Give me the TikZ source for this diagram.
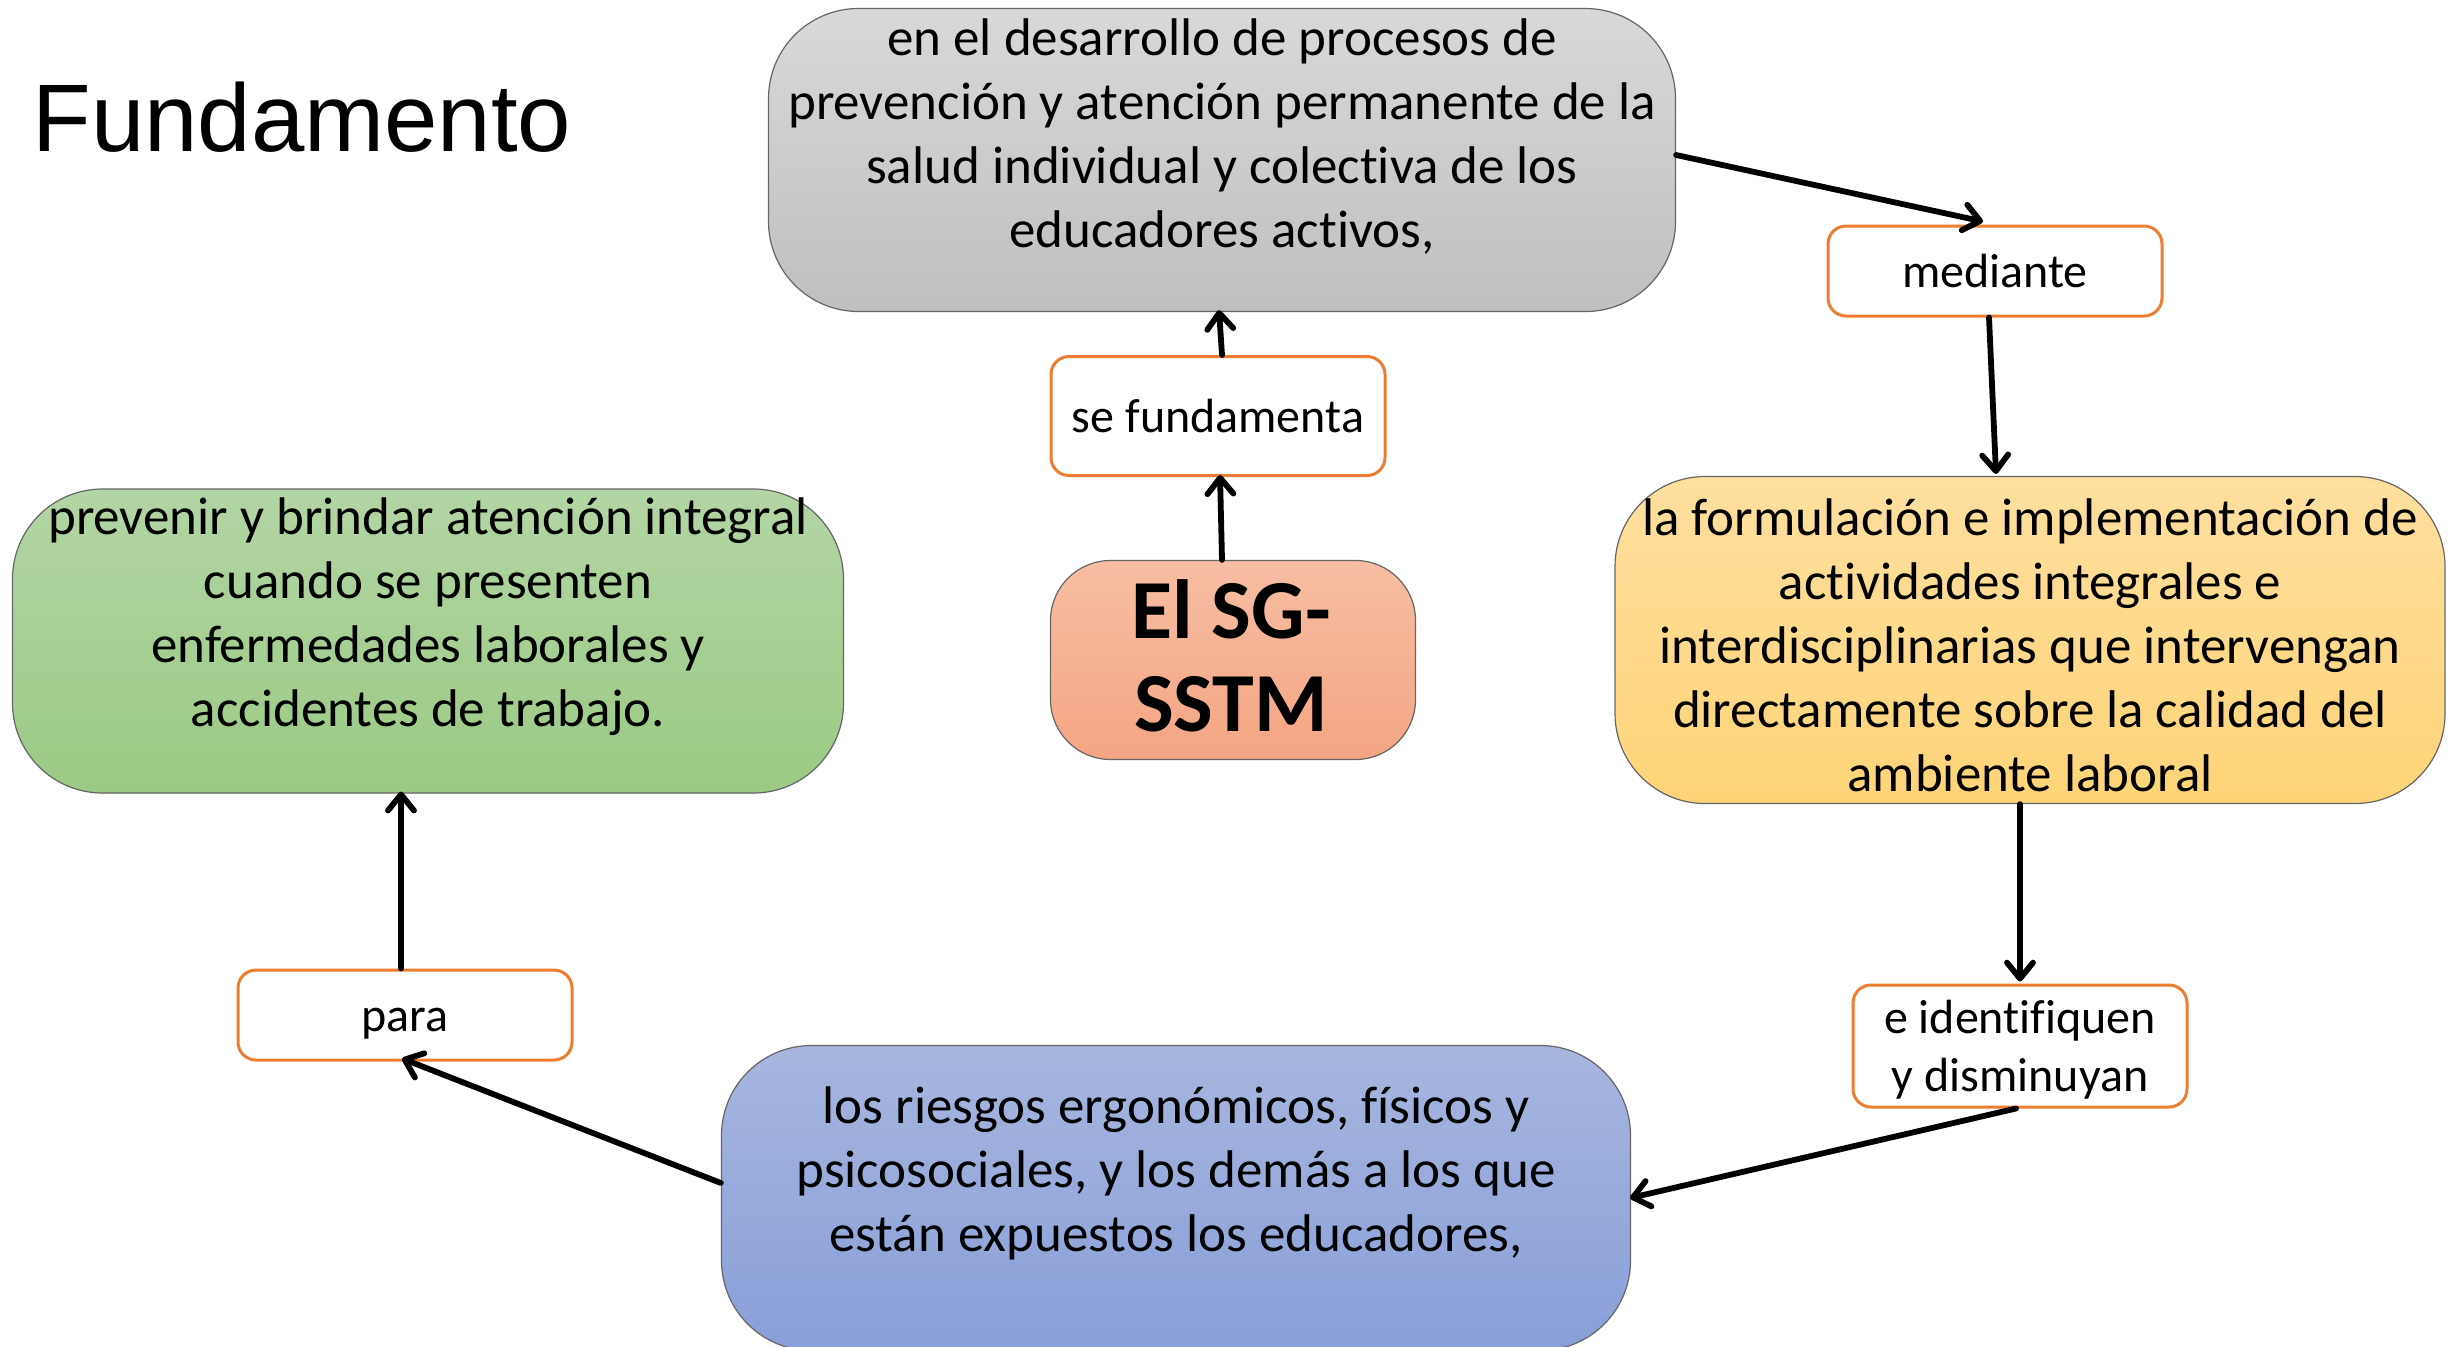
\documentclass[tikz,border=0pt]{standalone}
\usepackage{fontspec}
\setmainfont{Carlito}[Ligatures={NoCommon}]
\newfontfamily\arialf{Liberation Sans}
\usetikzlibrary{arrows.meta,calc}
\definecolor{lblorange}{HTML}{ED7D31}
\tikzset{
  bigbox/.style={draw=black!60, line width=0.6pt, rounded corners=45pt, inner sep=0pt},
  lblbox/.style={draw=lblorange, fill=white, line width=1.5pt, rounded corners=9pt,
     minimum width=167pt, inner sep=0pt, align=center,
     font=\fontsize{24}{29}\selectfont},
  bodytxt/.style={align=center, inner sep=0pt, font=\fontsize{26.5}{32}\selectfont},
  conn/.style={draw=black, line width=2.9pt, line cap=round,
     -{Straight Barb[length=8pt,width=13pt,round]}},
}
\begin{document}
\begin{tikzpicture}[x=0.5pt,y=-0.5pt]
\useasboundingbox (0,0) rectangle (2456,1346);
\fill[white] (0,0) rectangle (2456,1346);

% title
\node[anchor=west, inner sep=0pt, font=\arialf\fontsize{48}{56}\selectfont] (title) at (32,117) {Fundamento};

% big boxes
\node[bigbox, top color=gray!30, bottom color=gray!50, minimum width=453.5pt, minimum height=151.5pt] (gray) at (1222,160) {};
\node[bodytxt] (grayT) at (1222,136) {en el desarrollo de procesos de\\prevención y atención permanente de la\\salud individual y colectiva de los\\educadores activos,};

\node[bigbox, top color={rgb,255:red,179;green,213;blue,165}, bottom color={rgb,255:red,155;green,202;blue,132}, minimum width=415.5pt, minimum height=152pt] (green) at (428,641) {};
\node[bodytxt] (greenT) at (428,617) {prevenir y brindar atención integral\\cuando se presenten\\enfermedades laborales y\\accidentes de trabajo.};

\node[bigbox, top color={rgb,255:red,254;green,223;blue,159}, bottom color={rgb,255:red,255;green,212;blue,120}, minimum width=415pt, minimum height=163.5pt] (orange) at (2030,640) {};
\node[bodytxt] (orangeT) at (2030,645) {la formulación e implementación de\\actividades integrales e\\interdisciplinarias que intervengan\\directamente sobre la calidad del\\ambiente laboral};

\node[bigbox, top color={rgb,255:red,168;green,182;blue,223}, bottom color={rgb,255:red,136;green,159;blue,216}, minimum width=454.5pt, minimum height=152.5pt] (blue) at (1176,1198) {};
\node[bodytxt] (blueT) at (1176,1173) {los riesgos ergonómicos, físicos y\\psicosociales, y los demás a los que\\están expuestos los educadores,};

\node[bigbox, rounded corners=30pt, top color={rgb,255:red,247;green,190;blue,163}, bottom color={rgb,255:red,244;green,165;blue,131}, minimum width=182.5pt, minimum height=99.5pt] (sg) at (1233,660) {};
\node[align=center, inner sep=0pt, font=\bfseries\fontsize{42}{46.5}\selectfont] (sgT) at (1231,656) {El SG-\\SSTM};

% label boxes
\node[lblbox, minimum height=45pt] (med) at (1995,271) {mediante};
\node[lblbox, minimum height=59.5pt] (fund) at (1218,416) {se fundamenta};
\node[lblbox, minimum height=61pt] (ident) at (2020,1046) {\vphantom{Á}e identifiquen\\y disminuyan};
\node[lblbox, minimum height=45pt] (para) at (405,1015) {\vphantom{Ád}para};

% connectors
\draw[conn] ($(sg.north)+(-11,0)$) -- ($(fund.south)+(2,-2)$);
\draw[conn] ($(fund.north)+(4,0)$) -- ($(gray.south)+(-3,-2)$);
\draw[conn] ($(gray.east)+(0,-5)$) -- ($(med.north)+(-12,-3)$);
\draw[conn] ($(med.south)+(-6,0)$) -- ($(orange.north)+(-34,-2)$);
\draw[conn] ($(orange.south)+(-10,0)$) -- ($(ident.north)+(0,-2)$);
\draw[conn] ($(ident.south)+(-4,0)$) -- ($(blue.east)+(-1,0)$);
\draw[conn] ($(blue.west)+(0,-15)$) -- ($(para.south)+(-3,-3)$);
\draw[conn] ($(para.north)+(-4,0)$) -- ($(green.south)+(-27,-2)$);
\end{tikzpicture}
\end{document}
